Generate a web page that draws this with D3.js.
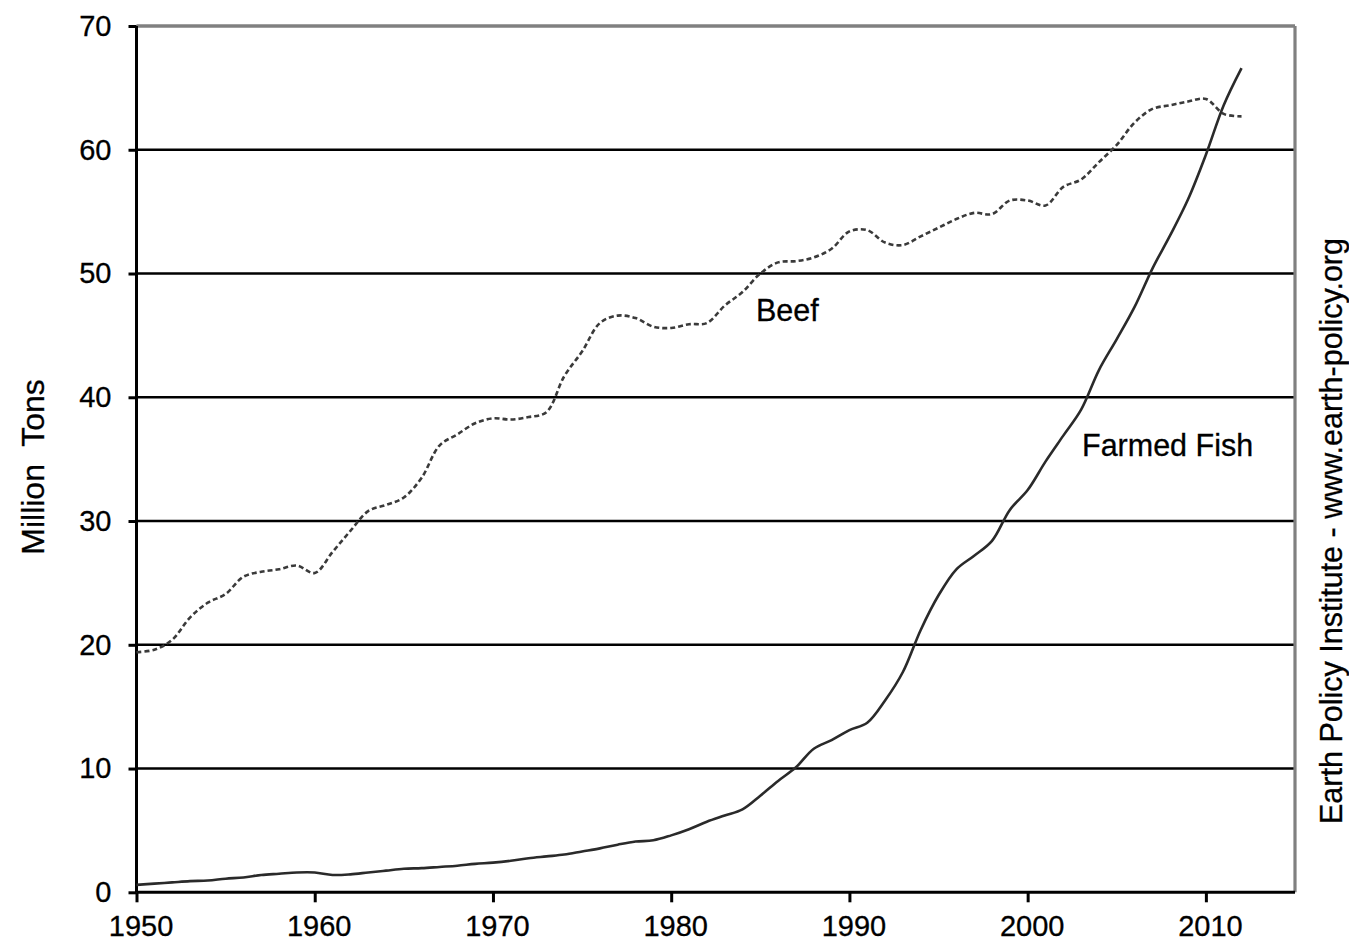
<!DOCTYPE html>
<html>
<head>
<meta charset="utf-8">
<script src="https://cdn.jsdelivr.net/npm/d3@7"></script>
<style>
  html, body { margin: 0; padding: 0; background: #fff; }
  svg { display: block; }
  text { font-family: "Liberation Sans", Arial, sans-serif; fill: #000; }
</style>
</head>
<body>
<svg id="chart" width="1349" height="942"></svg>
<script>
const years = d3.range(1950, 2013);
const beef = [19.4, 19.6, 20.4, 22.2, 23.4, 24.1, 25.5, 25.9, 26.1, 26.4,
  25.8, 27.5, 29.2, 30.8, 31.3, 31.9, 33.5, 36.1, 37.0, 37.9,
  38.3, 38.2, 38.4, 38.8, 41.7, 43.7, 46.0, 46.6, 46.4, 45.7,
  45.6, 45.9, 46.0, 47.4, 48.5, 50.0, 50.9, 51.0, 51.3, 52.0,
  53.4, 53.5, 52.5, 52.3, 53.0, 53.7, 54.4, 54.9, 54.8, 55.9,
  55.9, 55.5, 57.0, 57.6, 59.0, 60.4, 62.2, 63.3, 63.6, 63.9,
  64.1, 62.9, 62.7];
const fish = [0.6, 0.7, 0.8, 0.9, 0.95, 1.1, 1.2, 1.4, 1.5, 1.6,
  1.6, 1.4, 1.45, 1.6, 1.75, 1.9, 1.95, 2.05, 2.15, 2.3,
  2.4, 2.55, 2.75, 2.9, 3.05, 3.3, 3.55, 3.85, 4.1, 4.2,
  4.6, 5.1, 5.7, 6.2, 6.7, 7.8, 9.0, 10.1, 11.6, 12.3,
  13.1, 13.7, 15.5, 17.8, 21.2, 24.0, 26.1, 27.2, 28.4, 30.9,
  32.5, 34.8, 36.9, 39.0, 42.2, 44.7, 47.3, 50.4, 53.1, 56.0,
  59.6, 63.6, 66.6];
const xTicks = [1950, 1960, 1970, 1980, 1990, 2000, 2010];
const yTicks = [0, 10, 20, 30, 40, 50, 60, 70];
const labels = { beef: "Beef", fish: "Farmed Fish" };
const yTitle = "Million  Tons";
const source = "Earth Policy Institute - www.earth-policy.org";

const svg = d3.select("#chart");
const L = 136.5, R = 1295, T = 26, B = 892.3;
const x = d3.scaleLinear().domain([1950, 2015]).range([L, R]);
const y = d3.scaleLinear().domain([0, 70]).range([B, T]);

// gridlines
svg.append("g").selectAll("line").data(yTicks.filter(v => v > 0 && v < 70)).join("line")
  .attr("x1", L).attr("x2", R).attr("y1", d => y(d)).attr("y2", d => y(d))
  .attr("stroke", "#000").attr("stroke-width", 2.6);

// frame top & right (gray)
svg.append("line").attr("x1", L).attr("x2", R).attr("y1", T).attr("y2", T)
  .attr("stroke", "#808080").attr("stroke-width", 3.5);
svg.append("line").attr("x1", R).attr("x2", R).attr("y1", T).attr("y2", B)
  .attr("stroke", "#808080").attr("stroke-width", 3.2);

// axes
const yAxis = svg.append("g").attr("transform", `translate(${L},0)`)
  .call(d3.axisLeft(y).tickValues(yTicks).tickSize(8).tickPadding(17).tickFormat(d3.format("d")));
const xAxis = svg.append("g").attr("transform", `translate(0,${B})`)
  .call(d3.axisBottom(x).tickValues(xTicks).tickSize(10).tickPadding(13).tickFormat(d3.format("d")));
[yAxis, xAxis].forEach(g => {
  g.select(".domain").attr("stroke", "#000").attr("stroke-width", 3);
  g.selectAll(".tick line").attr("stroke", "#000").attr("stroke-width", 3);
  g.selectAll(".tick text").attr("font-size", 29).attr("font-family", "'Liberation Sans', Arial, sans-serif")
    .attr("fill", "#000").attr("stroke", "#000").attr("stroke-width", 0.3);
});
xAxis.select(".domain").attr("d", `M${L},0H${R}`);
yAxis.select(".domain").attr("d", `M0,${y(0)}V${T}`);
yAxis.selectAll(".tick text").attr("dy", "0.32em");
xAxis.selectAll(".tick text").attr("dx", "4");

const line = d3.line().x((d, i) => x(years[i])).y(d => y(d)).curve(d3.curveCatmullRom.alpha(0.5));

svg.append("path").datum(beef).attr("d", line)
  .attr("fill", "none").attr("stroke", "#3a3a3a").attr("stroke-width", 2.6)
  .attr("stroke-dasharray", "5,3");
svg.append("path").datum(fish).attr("d", line)
  .attr("fill", "none").attr("stroke", "#2a2a2a").attr("stroke-width", 2.6);

const lab = (sel) => sel.attr("stroke", "#000").attr("stroke-width", 0.3);
lab(svg.append("text").attr("x", 756).attr("y", 321).attr("font-size", 30.5).text(labels.beef));
lab(svg.append("text").attr("x", 1082).attr("y", 456).attr("font-size", 30.5).text(labels.fish));

lab(svg.append("text").attr("transform", `translate(44,467) rotate(-90)`)
  .attr("text-anchor", "middle").attr("font-size", 32).style("white-space", "pre").text(yTitle));
lab(svg.append("text").attr("transform", `translate(1342,531) rotate(-90)`)
  .attr("text-anchor", "middle").attr("font-size", 30.5).text(source));
</script>
</body>
</html>
